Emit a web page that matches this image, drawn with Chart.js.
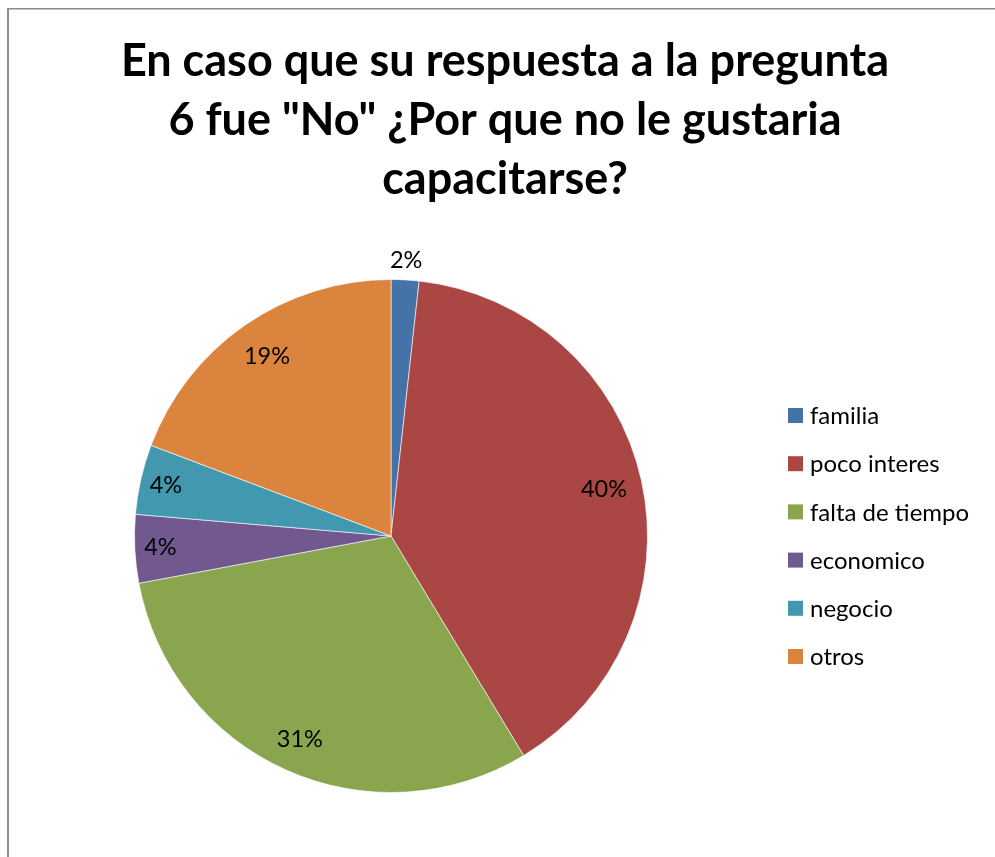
<!DOCTYPE html>
<html>
<head>
<meta charset="utf-8">
<script src="https://cdn.jsdelivr.net/npm/chart.js@4.4.1/dist/chart.umd.min.js"></script>
<style>
  html, body { margin: 0; padding: 0; background: #fff; }
  #wrap { position: relative; width: 995px; height: 857px; }
  canvas { display: block; }
</style>
</head>
<body>
<div id="wrap"><canvas id="c" width="995" height="857"></canvas></div>
<script>
// ---- data ----
const titleLines = ['En caso que su respuesta a la pregunta', '6 fue "No" ¿Por que no le gustaria', 'capacitarse?'];
const categories = ['familia', 'poco interes', 'falta de tiempo', 'economico', 'negocio', 'otros'];
const values = [1.75, 39.6, 30.7, 4.3, 4.4, 19.25];
const valueLabels = ['2%', '40%', '31%', '4%', '4%', '19%'];
const colors = ['#4572A7', '#AA4643', '#89A54E', '#71588F', '#4198AF', '#DB843D'];

const FONT = 'Lato, Calibri, "Open Sans", sans-serif';

const decorPlugin = {
  id: 'decor',
  beforeDraw(chart) {
    const ctx = chart.ctx;
    ctx.save();
    ctx.fillStyle = '#fff';
    ctx.fillRect(0, 0, chart.width, chart.height);
    // frame (top and left edges)
    ctx.fillStyle = '#8c8c8c';
    ctx.fillRect(7, 8, 2, chart.height - 8);
    ctx.fillRect(7, 8, chart.width - 7, 1.5);
    ctx.restore();
  },
  afterDraw(chart) {
    const ctx = chart.ctx;
    ctx.save();
    // title
    ctx.fillStyle = '#000';
    ctx.font = 'bold 45px ' + FONT;
    ctx.textAlign = 'center';
    ctx.textBaseline = 'alphabetic';
    const baselines = [76, 135, 194];
    titleLines.forEach((t, i) => ctx.fillText(t, 505, baselines[i]));

    // legend
    ctx.font = '24px ' + FONT;
    ctx.textAlign = 'left';
    ctx.textBaseline = 'middle';
    categories.forEach((name, i) => {
      const cy = 415.5 + i * 48.2;
      ctx.fillStyle = colors[i];
      ctx.fillRect(788, cy - 7.5, 15, 15);
      ctx.fillStyle = '#000';
      ctx.fillText(name, 810, cy + 1);
    });

    // data labels
    const meta = chart.getDatasetMeta(0);
    const rf = [1.075, 0.85, 0.87, 0.9, 0.9, 0.85];
    ctx.font = '23.5px ' + FONT;
    ctx.textAlign = 'center';
    ctx.textBaseline = 'middle';
    ctx.fillStyle = '#000';
    meta.data.forEach((arc, i) => {
      const p = arc.getProps(['x', 'y', 'startAngle', 'endAngle', 'outerRadius'], true);
      const mid = (p.startAngle + p.endAngle) / 2;
      const r = p.outerRadius * rf[i];
      ctx.fillText(valueLabels[i], p.x + Math.cos(mid) * r, p.y + Math.sin(mid) * r);
    });
    ctx.restore();
  }
};

new Chart(document.getElementById('c'), {
  type: 'pie',
  data: {
    labels: categories,
    datasets: [{
      data: values,
      backgroundColor: colors,
      borderColor: 'rgba(255,255,255,0.6)',
      borderWidth: 1,
      hoverOffset: 0
    }]
  },
  options: {
    responsive: false,
    animation: false,
    events: [],
    layout: { padding: { left: 134, top: 279, right: 347, bottom: 64 } },
    plugins: {
      legend: { display: false },
      title: { display: false },
      tooltip: { enabled: false }
    }
  },
  plugins: [decorPlugin]
});
</script>
</body>
</html>
